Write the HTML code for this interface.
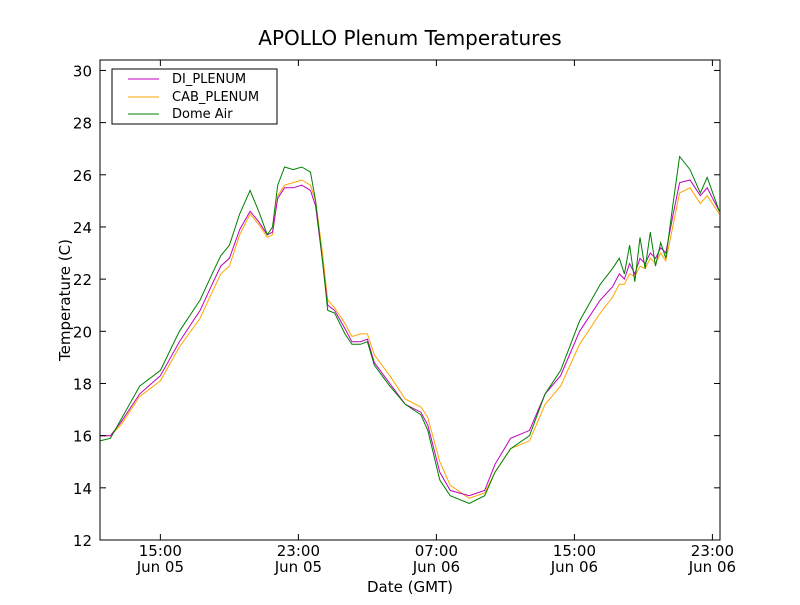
<!DOCTYPE html>
<html><head><meta charset="utf-8"><style>
body{margin:0;background:#fff;}
svg text{font-family:"DejaVu Sans","Liberation Sans",sans-serif;}
</style></head><body>
<svg id="chart" width="800" height="600" xmlns="http://www.w3.org/2000/svg">
<rect width="800" height="600" fill="#fff"/>
<text x="410" y="45" font-size="20" text-anchor="middle">APOLLO Plenum Temperatures</text>
<g id="series"></g>
<g id="axes"></g>
<rect x="100" y="60" width="620" height="480" fill="none" stroke="#000" stroke-width="1"/>
<text x="410" y="592" font-size="15" text-anchor="middle">Date (GMT)</text>
<text transform="translate(70,300) rotate(-90)" font-size="15" text-anchor="middle">Temperature (C)</text>
<g>
<rect x="112" y="69" width="165" height="55" fill="#fff" stroke="#000"/>
<line x1="128" y1="79" x2="159" y2="79" stroke="#bf00bf"/>
<text x="172" y="83" font-size="13">DI_PLENUM</text>
<line x1="128" y1="97" x2="159" y2="97" stroke="#ffa500"/>
<text x="172" y="101" font-size="13">CAB_PLENUM</text>
<line x1="128" y1="114" x2="159" y2="114" stroke="#008000"/>
<text x="172" y="118" font-size="13">Dome Air</text>
</g>
</svg>
<script>
// hours since 11:30 Jun 05
const hours = [0,0.6,1.2,2.3,3.5,4.6,5.8,6.5,7.0,7.5,8.1,8.7,9.2,9.7,10.0,10.3,10.7,11.2,11.7,12.2,12.5,12.9,13.2,13.6,14.2,14.6,15.1,15.5,15.9,16.8,17.7,18.6,19.0,19.7,20.3,21.4,22.3,22.9,23.8,24.9,25.8,26.7,27.8,29.0,29.7,30.1,30.4,30.7,31.0,31.3,31.6,31.9,32.2,32.5,32.8,33.2,33.6,34.2,34.8,35.2,35.9];
const dome = [15.8,15.9,16.6,17.9,18.5,20.0,21.2,22.2,22.9,23.3,24.5,25.4,24.6,23.7,24.0,25.6,26.3,26.2,26.3,26.1,25.0,22.7,20.8,20.7,19.9,19.5,19.5,19.6,18.7,17.9,17.2,16.8,16.2,14.3,13.7,13.4,13.7,14.6,15.5,16.0,17.6,18.5,20.4,21.8,22.4,22.8,22.2,23.3,21.9,23.6,22.4,23.8,22.5,23.4,22.8,24.8,26.7,26.2,25.3,25.9,24.6];
const di = [16.0,16.0,16.5,17.6,18.3,19.6,20.8,21.8,22.5,22.8,23.9,24.6,24.2,23.7,23.8,25.1,25.5,25.5,25.6,25.4,24.8,22.7,21.0,20.8,20.1,19.6,19.6,19.7,18.8,18.0,17.2,16.9,16.4,14.6,13.9,13.7,13.9,14.9,15.9,16.2,17.6,18.3,20.0,21.2,21.7,22.2,22.0,22.6,22.2,22.8,22.6,23.0,22.8,23.2,23.0,24.4,25.7,25.8,25.2,25.5,24.6];
const cab = [16.0,16.0,16.4,17.5,18.1,19.4,20.5,21.5,22.2,22.5,23.7,24.5,24.1,23.6,23.7,25.2,25.6,25.7,25.8,25.6,25.0,23.0,21.2,20.9,20.3,19.8,19.9,19.9,19.1,18.3,17.4,17.1,16.7,15.0,14.1,13.6,13.8,14.6,15.5,15.8,17.2,17.9,19.5,20.7,21.3,21.8,21.8,22.2,22.1,22.5,22.4,22.8,22.6,23.0,22.7,24.0,25.3,25.5,24.9,25.2,24.5];
const yTicks = [12,14,16,18,20,22,24,26,28,30];
const xTickHours = [3.5,11.5,19.5,27.5,35.5];
const xTickTimes = ["15:00","23:00","07:00","15:00","23:00"];
const xTickDates = ["Jun 05","Jun 05","Jun 06","Jun 06","Jun 06"];

const NS="http://www.w3.org/2000/svg";
const X0=100,X1=720,Y0=60,Y1=540,TMAX=35.94,VMIN=12,VMAX=30.4;
function xs(t){return X0+(t/TMAX)*(X1-X0);}
function ys(v){return Y1-(v-VMIN)/(VMAX-VMIN)*(Y1-Y0);}
const sg=document.getElementById('series');
function line(vals,color,name){
  const p=document.createElementNS(NS,'path');
  p.setAttribute('d',vals.map((v,i)=>(i?'L':'M')+xs(hours[i]).toFixed(1)+','+ys(v).toFixed(1)).join(''));
  p.setAttribute('fill','none');p.setAttribute('stroke',color);p.setAttribute('stroke-width','1');
  
  
  sg.appendChild(p);
}
line(cab,'#ffa500','cab-plenum-line');
line(di,'#bf00bf','di-plenum-line');
line(dome,'#008000','dome-air-line');
const ag=document.getElementById('axes');
function el(tag,attrs,txt){const e=document.createElementNS(NS,tag);for(const k in attrs)e.setAttribute(k,attrs[k]);if(txt)e.textContent=txt;ag.appendChild(e);return e;}
yTicks.forEach(v=>{
  const y=ys(v);
  const a=el('line',{x1:X0,x2:X0+6,y1:y,y2:y,stroke:'#000'});
  
  
  const b=el('line',{x1:X1-6,x2:X1,y1:y,y2:y,stroke:'#000'});
  
  
  const t=el('text',{x:X0-8,y:y+6,'font-size':'15','text-anchor':'end'},String(v));
  
  
});
xTickHours.forEach((h,i)=>{
  const x=xs(h);
  const a=el('line',{x1:x,x2:x,y1:Y1-6,y2:Y1,stroke:'#000'});
  
  
  const b=el('line',{x1:x,x2:x,y1:Y0,y2:Y0+6,stroke:'#000'});
  
  
  const t=el('text',{x:x,y:556,'font-size':'15','text-anchor':'middle'},xTickTimes[i]);
  
  
  const d=el('text',{x:x,y:572,'font-size':'15','text-anchor':'middle'},xTickDates[i]);
  
  
});
</script>
</body></html>
